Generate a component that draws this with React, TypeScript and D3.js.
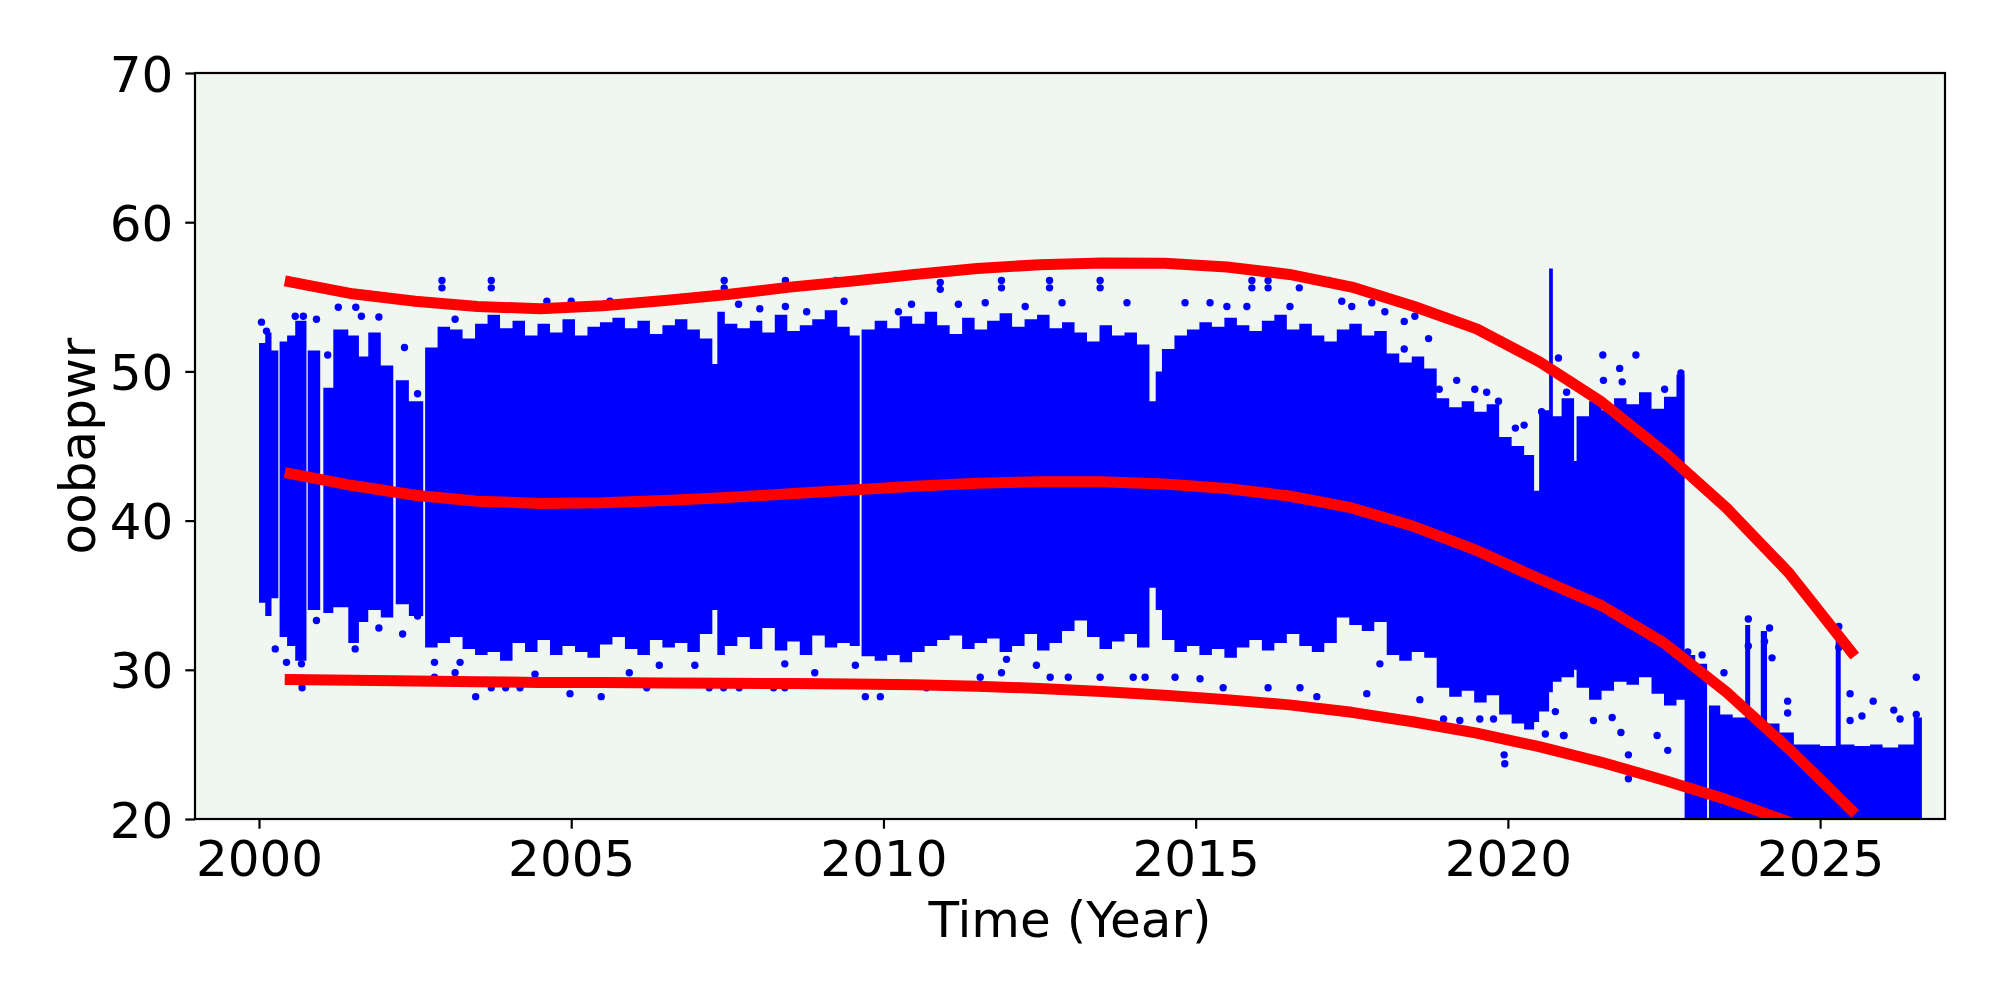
import { useEffect, useRef } from "react";
import * as d3 from "d3";

const xTicks = [2000, 2005, 2010, 2015, 2020, 2025];
const yTicks = [20, 30, 40, 50, 60, 70];

// yearly points of the three fitted curves (red)
const fitYears = [
  2000.5, 2001.5, 2002.5, 2003.5, 2004.5, 2005.5, 2006.5, 2007.5, 2008.5,
  2009.5, 2010.5, 2011.5, 2012.5, 2013.5, 2014.5, 2015.5, 2016.5, 2017.5,
  2018.5, 2019.5, 2020.5, 2021.5, 2022.5, 2023.5, 2024.5, 2025.5,
];
const upperFit = [
  56.0, 55.2, 54.7, 54.35, 54.2, 54.4, 54.75, 55.15, 55.65, 56.05, 56.5, 56.9,
  57.15, 57.27, 57.25, 57.0, 56.5, 55.65, 54.35, 52.85, 50.65, 47.95, 44.6,
  40.85, 36.5, 31.2,
];
const meanFit = [
  43.15, 42.35, 41.7, 41.3, 41.15, 41.2, 41.35, 41.55, 41.8, 42.05, 42.3, 42.5,
  42.6, 42.6, 42.45, 42.15, 41.65, 40.85, 39.6, 38.0, 36.1, 34.3, 31.8, 28.5,
  24.7, 20.6,
];
const lowerFit = [
  29.35, 29.3, 29.25, 29.2, 29.15, 29.15, 29.12, 29.1, 29.08, 29.05, 29.0,
  28.9, 28.75, 28.55, 28.3, 28.0, 27.65, 27.15, 26.5, 25.75, 24.85, 23.8, 22.6,
  21.3, 19.8, 18.2,
];

// dense oobapwr scatter read as columns: [start year, end year, low, high]
const scatterColumns: [number, number, number, number][] = [
  [2000.0, 2000.1, 34.5, 51.9],
  [2000.1, 2000.2, 33.6, 52.6],
  [2000.2, 2000.31, 34.8, 51.4],
  [2000.33, 2000.45, 32.2, 52.0],
  [2000.45, 2000.58, 31.6, 52.4],
  [2000.58, 2000.76, 30.6, 53.4],
  [2000.78, 2000.98, 34.0, 51.4],
  [2001.03, 2001.19, 33.8, 48.9],
  [2001.19, 2001.43, 34.2, 52.8],
  [2001.43, 2001.6, 31.8, 52.4],
  [2001.6, 2001.75, 33.2, 51.0],
  [2001.75, 2001.95, 34.0, 52.6],
  [2001.95, 2002.15, 33.5, 50.4],
  [2002.19, 2002.4, 34.4, 49.4],
  [2002.4, 2002.63, 33.6, 48.0],
  [2002.66, 2002.86, 31.5, 51.6],
  [2002.86, 2003.06, 31.8, 53.0],
  [2003.06, 2003.26, 32.2, 52.8],
  [2003.26, 2003.46, 31.4, 52.2],
  [2003.46, 2003.66, 31.0, 53.2],
  [2003.66, 2003.86, 31.2, 53.8],
  [2003.86, 2004.06, 30.6, 52.9],
  [2004.06, 2004.26, 31.8, 53.4],
  [2004.26, 2004.46, 31.2, 52.4],
  [2004.46, 2004.66, 32.0, 53.2],
  [2004.66, 2004.86, 31.0, 52.6],
  [2004.86, 2005.06, 31.6, 53.5],
  [2005.06, 2005.26, 31.2, 52.4],
  [2005.26, 2005.46, 30.8, 53.0],
  [2005.46, 2005.66, 31.7, 53.3],
  [2005.66, 2005.86, 32.2, 53.6],
  [2005.86, 2006.06, 31.4, 52.9],
  [2006.06, 2006.26, 31.0, 53.4],
  [2006.26, 2006.46, 32.0, 52.5],
  [2006.46, 2006.66, 31.5, 53.1],
  [2006.66, 2006.86, 31.8, 53.5],
  [2006.86, 2007.06, 31.2, 52.8],
  [2007.06, 2007.26, 32.4, 52.2],
  [2007.26, 2007.34, 34.0, 50.5],
  [2007.34, 2007.46, 31.0, 54.0],
  [2007.46, 2007.66, 31.6, 53.2],
  [2007.66, 2007.86, 32.2, 52.9],
  [2007.86, 2008.06, 31.4, 53.4],
  [2008.06, 2008.26, 32.8, 52.6],
  [2008.26, 2008.46, 31.3, 53.8],
  [2008.46, 2008.66, 31.9, 52.7],
  [2008.66, 2008.86, 31.0, 53.1],
  [2008.86, 2009.06, 32.3, 53.5],
  [2009.06, 2009.26, 31.5, 54.1],
  [2009.26, 2009.46, 31.8, 53.0],
  [2009.46, 2009.62, 31.6, 52.4],
  [2009.65, 2009.86, 30.9, 52.8],
  [2009.86, 2010.06, 30.6, 53.4],
  [2010.06, 2010.26, 31.0, 52.9],
  [2010.26, 2010.46, 30.5, 53.7],
  [2010.46, 2010.66, 31.2, 53.2],
  [2010.66, 2010.86, 31.6, 54.0],
  [2010.86, 2011.06, 32.0, 53.1],
  [2011.06, 2011.26, 32.3, 52.5],
  [2011.26, 2011.46, 31.4, 53.6],
  [2011.46, 2011.66, 31.8, 52.8],
  [2011.66, 2011.86, 32.1, 53.4],
  [2011.86, 2012.06, 31.2, 53.9],
  [2012.06, 2012.26, 31.6, 53.0],
  [2012.26, 2012.46, 32.4, 53.5],
  [2012.46, 2012.66, 31.3, 53.8],
  [2012.66, 2012.86, 31.8, 52.9],
  [2012.86, 2013.06, 32.6, 53.3],
  [2013.06, 2013.26, 33.3, 52.6],
  [2013.26, 2013.46, 32.2, 52.0],
  [2013.46, 2013.66, 31.4, 53.1],
  [2013.66, 2013.86, 31.9, 52.4],
  [2013.86, 2014.06, 32.4, 52.6],
  [2014.06, 2014.26, 31.5, 51.8],
  [2014.26, 2014.36, 35.5, 48.0],
  [2014.36, 2014.46, 34.0, 50.0],
  [2014.46, 2014.66, 32.0, 51.5],
  [2014.66, 2014.86, 31.2, 52.4],
  [2014.86, 2015.06, 31.6, 52.8],
  [2015.06, 2015.26, 31.0, 53.3],
  [2015.26, 2015.46, 31.4, 53.0],
  [2015.46, 2015.66, 30.8, 53.6],
  [2015.66, 2015.86, 31.5, 53.1],
  [2015.86, 2016.06, 32.0, 52.7],
  [2016.06, 2016.26, 31.3, 53.4],
  [2016.26, 2016.46, 31.8, 53.8],
  [2016.46, 2016.66, 32.4, 52.8],
  [2016.66, 2016.86, 31.6, 53.2],
  [2016.86, 2017.06, 31.2, 52.4],
  [2017.06, 2017.26, 31.8, 52.0],
  [2017.26, 2017.46, 33.5, 52.8],
  [2017.46, 2017.66, 33.0, 53.2],
  [2017.66, 2017.86, 32.6, 52.4],
  [2017.86, 2018.06, 33.2, 52.7],
  [2018.06, 2018.26, 31.0, 51.2],
  [2018.26, 2018.46, 30.6, 50.6],
  [2018.46, 2018.66, 31.2, 51.0],
  [2018.66, 2018.86, 30.8, 50.2],
  [2018.86, 2019.06, 28.8, 48.2],
  [2019.06, 2019.26, 28.2, 47.6],
  [2019.26, 2019.46, 28.6, 48.0],
  [2019.46, 2019.66, 27.8, 47.3],
  [2019.66, 2019.86, 28.3, 47.8],
  [2019.86, 2020.06, 27.0, 45.6],
  [2020.06, 2020.26, 26.4, 45.0],
  [2020.26, 2020.42, 26.0, 44.4],
  [2020.42, 2020.5, 26.5, 42.0],
  [2020.5, 2020.66, 27.2, 47.4],
  [2020.66, 2020.72, 28.5, 56.9],
  [2020.72, 2020.86, 29.2, 47.0],
  [2020.86, 2021.06, 29.5, 48.2],
  [2021.06, 2021.1, 30.0, 44.0],
  [2021.1, 2021.3, 28.8, 47.0],
  [2021.3, 2021.5, 28.0, 48.0],
  [2021.5, 2021.7, 28.6, 47.4],
  [2021.7, 2021.9, 29.2, 48.2],
  [2021.9, 2022.1, 29.0, 47.8],
  [2022.1, 2022.3, 29.5, 48.6],
  [2022.3, 2022.5, 28.4, 47.5],
  [2022.5, 2022.7, 27.6, 48.3],
  [2022.7, 2022.83, 28.0, 49.8],
  [2022.83, 2023.0, 19.5, 31.0],
  [2023.0, 2023.19, 19.5, 30.4],
  [2023.22, 2023.4, 19.5, 27.6],
  [2023.4, 2023.6, 19.5, 27.0],
  [2023.6, 2023.8, 19.5, 26.8],
  [2023.8, 2023.88, 19.5, 33.0],
  [2023.88, 2024.05, 19.5, 26.6],
  [2024.05, 2024.15, 19.5, 32.6],
  [2024.15, 2024.35, 19.5, 26.4],
  [2024.35, 2024.58, 19.5, 25.8],
  [2024.58, 2024.8, 19.5, 25.0],
  [2024.8, 2025.0, 19.5, 25.0],
  [2025.0, 2025.25, 19.5, 24.9],
  [2025.25, 2025.33, 19.5, 32.8],
  [2025.33, 2025.55, 19.5, 25.0],
  [2025.55, 2025.8, 19.5, 24.9],
  [2025.8, 2026.0, 19.5, 25.0],
  [2026.0, 2026.25, 19.5, 24.8],
  [2026.25, 2026.5, 19.5, 25.0],
  [2026.5, 2026.63, 19.5, 26.8],
];

// isolated points outside the dense band: [year, value]
const outliers: [number, number][] = [
  [2000.04, 53.3], [2000.12, 52.7], [2000.58, 53.7], [2000.71, 53.7],
  [2000.92, 53.5], [2001.1, 51.1], [2001.27, 54.3], [2001.55, 54.3],
  [2001.64, 53.7], [2001.92, 53.65], [2002.33, 51.6], [2002.54, 48.5],
  [2002.93, 56.1], [2002.93, 55.6], [2003.72, 56.1], [2003.72, 55.6],
  [2003.14, 53.5], [2004.61, 54.7],
  [2000.26, 31.4], [2000.44, 30.5], [2000.68, 30.4], [2000.69, 28.8],
  [2000.92, 33.3], [2001.54, 31.4], [2001.92, 32.8], [2002.3, 32.4],
  [2002.54, 33.6], [2002.81, 30.5], [2002.81, 29.5], [2003.22, 30.5],
  [2003.14, 29.8], [2003.47, 28.2], [2003.72, 28.8], [2003.95, 28.8],
  [2004.18, 28.8], [2004.42, 29.7],
  [2005.0, 54.7], [2005.62, 54.7], [2007.45, 56.1], [2007.45, 55.6],
  [2007.68, 54.5], [2008.02, 54.2], [2008.43, 56.1], [2008.43, 54.35],
  [2008.77, 54.0], [2009.24, 56.1], [2009.37, 54.7], [2010.24, 54.0],
  [2004.98, 28.4], [2005.48, 28.2], [2005.93, 29.8], [2006.21, 28.8],
  [2006.41, 30.3], [2006.98, 30.3], [2007.21, 28.8], [2007.44, 28.8],
  [2007.69, 28.8], [2008.24, 28.8], [2008.42, 28.8], [2008.42, 30.4],
  [2008.9, 29.8], [2009.71, 28.2], [2009.95, 28.2], [2009.55, 30.3],
  [2010.91, 55.96], [2010.91, 55.5], [2011.89, 56.1], [2011.89, 55.6],
  [2012.66, 56.1], [2012.66, 55.6], [2013.47, 56.1], [2013.47, 55.6],
  [2010.45, 54.5], [2011.2, 54.5], [2011.63, 54.6], [2012.27, 54.35],
  [2012.86, 54.6], [2013.9, 54.6], [2014.83, 54.6], [2015.23, 54.6],
  [2015.5, 54.35],
  [2010.69, 28.8], [2011.55, 29.5], [2011.89, 29.8], [2012.67, 29.5],
  [2012.96, 29.5], [2013.47, 29.5], [2014.0, 29.5], [2014.19, 29.5],
  [2014.67, 29.5], [2015.07, 29.4], [2015.44, 28.8], [2012.45, 30.3],
  [2011.97, 30.7],
  [2015.9, 56.1], [2015.9, 55.6], [2016.16, 56.1], [2016.16, 55.6],
  [2016.66, 55.6], [2017.13, 56.1], [2015.82, 54.35], [2016.51, 54.35],
  [2017.34, 54.7], [2017.5, 54.35], [2017.82, 54.6], [2018.03, 54.0],
  [2018.34, 53.35], [2018.51, 53.7], [2018.73, 52.2], [2018.34, 51.5],
  [2019.18, 49.4], [2019.47, 48.8], [2019.66, 48.6], [2019.85, 48.0],
  [2020.12, 46.2], [2020.26, 46.4], [2020.54, 47.3], [2020.94, 48.6],
  [2020.81, 50.9], [2018.9, 48.8],
  [2016.16, 28.8], [2016.67, 28.8], [2016.94, 28.2], [2017.74, 28.4],
  [2017.95, 30.4], [2018.59, 28.0], [2018.97, 26.7], [2019.23, 26.6],
  [2019.55, 26.7], [2019.77, 26.7], [2019.94, 24.3], [2019.95, 23.7],
  [2020.6, 25.7], [2020.89, 25.6], [2020.76, 27.2],
  [2021.52, 51.1], [2022.05, 51.1], [2021.79, 50.2], [2021.83, 49.3],
  [2022.77, 49.9], [2022.51, 48.8], [2021.53, 49.4],
  [2020.9, 25.6], [2021.37, 26.6], [2021.67, 26.8], [2021.81, 25.8],
  [2021.93, 24.3], [2021.93, 22.7], [2022.39, 25.6], [2022.56, 24.6],
  [2022.88, 31.2], [2023.11, 31.0], [2023.46, 29.8], [2023.85, 33.4],
  [2023.85, 31.6], [2024.19, 32.8], [2024.11, 31.9], [2024.23, 30.8],
  [2024.48, 27.9], [2024.48, 27.1], [2025.3, 32.9], [2025.3, 31.5],
  [2025.48, 28.4], [2025.48, 26.6], [2025.67, 26.9], [2025.85, 27.9],
  [2026.18, 27.3], [2026.28, 26.7], [2026.54, 29.5], [2026.54, 27.0],
];

export default function App() {
  const svgRef = useRef<SVGSVGElement>(null);

  useEffect(() => {
    if (!svgRef.current) return;
    const width = 2000;
    const height = 1000;
    const margin = { top: 73, right: 55, bottom: 181, left: 195 };
    const font = "DejaVu Sans";

    const svg = d3
      .select(svgRef.current)
      .attr("width", width)
      .attr("height", height);
    svg.selectAll("*").remove();

    const x = d3
      .scaleLinear()
      .domain([1998.975, 2027.0])
      .range([margin.left, width - margin.right]);
    const y = d3
      .scaleLinear()
      .domain([20, 70])
      .range([height - margin.bottom, margin.top]);

    const plotW = width - margin.left - margin.right;
    const plotH = height - margin.top - margin.bottom;

    svg.append("rect").attr("width", width).attr("height", height).attr("fill", "#fff");

    // axes background
    svg
      .append("rect")
      .attr("x", margin.left)
      .attr("y", margin.top)
      .attr("width", plotW)
      .attr("height", plotH)
      .attr("fill", "#f0f7f0");

    svg
      .append("clipPath")
      .attr("id", "plot-clip")
      .append("rect")
      .attr("x", margin.left)
      .attr("y", margin.top)
      .attr("width", plotW)
      .attr("height", plotH);

    const plot = svg.append("g").attr("clip-path", "url(#plot-clip)");

    // join touching columns into runs so each run is one seamless shape
    const runs: [number, number, number, number][][] = [];
    scatterColumns.forEach((c) => {
      const last = runs[runs.length - 1];
      if (last && Math.abs(last[last.length - 1][1] - c[0]) < 1e-6) last.push(c);
      else runs.push([c]);
    });

    const band = d3
      .area<[number, number, number]>()
      .x((d) => x(d[0]))
      .y0((d) => y(d[1]))
      .y1((d) => y(d[2]))
      .curve(d3.curveStepAfter);

    plot
      .append("g")
      .selectAll("path")
      .data(runs)
      .join("path")
      .attr("d", (run) => {
        const pts: [number, number, number][] = run.map((c) => [c[0], c[2], c[3]]);
        const end = run[run.length - 1];
        pts.push([end[1], end[2], end[3]]);
        return band(pts);
      })
      .attr("fill", "#0000ff");

    // isolated points
    plot
      .append("g")
      .selectAll("circle")
      .data(outliers)
      .join("circle")
      .attr("cx", (d) => x(d[0]))
      .attr("cy", (d) => y(d[1]))
      .attr("r", 3.7)
      .attr("fill", "#0000ff");

    // fitted curves
    const line = d3
      .line<[number, number]>()
      .x((d) => x(d[0]))
      .y((d) => y(d[1]));
    [upperFit, meanFit, lowerFit].forEach((vals) => {
      plot
        .append("path")
        .attr("d", line(d3.zip(fitYears, vals) as [number, number][]))
        .attr("fill", "none")
        .attr("stroke", "#ff0000")
        .attr("stroke-width", 11)
        .attr("stroke-linecap", "square")
        .attr("stroke-linejoin", "round");
    });

    // x axis
    const xAxis = svg
      .append("g")
      .attr("transform", `translate(0,${height - margin.bottom})`)
      .call(
        d3
          .axisBottom(x)
          .tickValues(xTicks)
          .tickFormat(d3.format("d"))
          .tickSize(9.7)
          .tickSizeOuter(0)
          .tickPadding(12),
      );
    xAxis.select(".domain").remove();
    xAxis.selectAll("line").attr("stroke", "#000").attr("stroke-width", 2.2);
    xAxis
      .selectAll("text")
      .attr("fill", "#000")
      .style("font-family", font)
      .style("font-size", "50px");

    // y axis
    const yAxis = svg
      .append("g")
      .attr("transform", `translate(${margin.left},0)`)
      .call(
        d3
          .axisLeft(y)
          .tickValues(yTicks)
          .tickFormat(d3.format("d"))
          .tickSize(9.7)
          .tickSizeOuter(0)
          .tickPadding(12),
      );
    yAxis.select(".domain").remove();
    yAxis.selectAll("line").attr("stroke", "#000").attr("stroke-width", 2.2);
    yAxis
      .selectAll("text")
      .attr("fill", "#000")
      .attr("dy", "0.36em")
      .style("font-family", font)
      .style("font-size", "50px");

    // spines
    svg
      .append("rect")
      .attr("x", margin.left)
      .attr("y", margin.top)
      .attr("width", plotW)
      .attr("height", plotH)
      .attr("fill", "none")
      .attr("stroke", "#000")
      .attr("stroke-width", 2.2);

    // axis labels
    svg
      .append("text")
      .attr("x", margin.left + plotW / 2)
      .attr("y", 937)
      .attr("text-anchor", "middle")
      .style("font-family", font)
      .style("font-size", "50px")
      .text("Time (Year)");

    svg
      .append("text")
      .attr("transform", `translate(95,${margin.top + plotH / 2}) rotate(-90)`)
      .attr("text-anchor", "middle")
      .style("font-family", font)
      .style("font-size", "50px")
      .text("oobapwr");
  }, []);

  return (
    <svg
      ref={svgRef}
      style={{ position: "absolute", left: 0, top: 0, display: "block" }}
    />
  );
}
